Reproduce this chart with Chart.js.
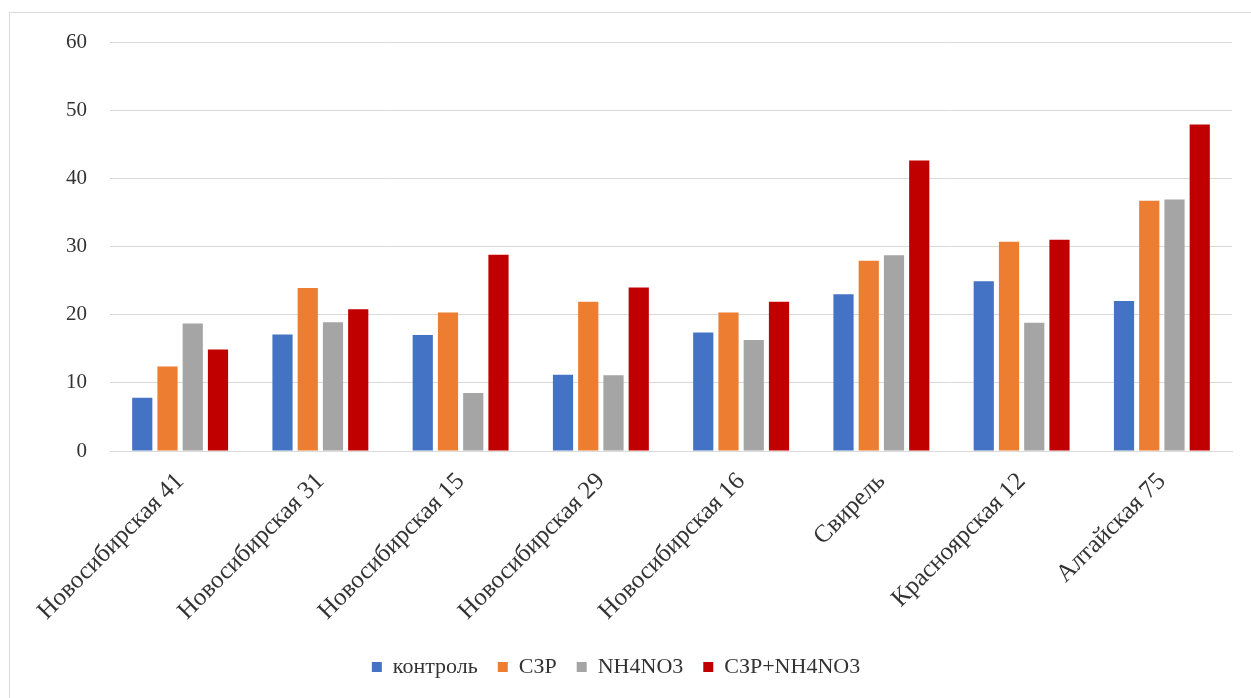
<!DOCTYPE html>
<html lang="ru">
<head>
<meta charset="utf-8">
<title>Сорта пшеницы</title>
<script src="https://cdn.jsdelivr.net/npm/chart.js@4.4.1/dist/chart.umd.min.js"></script>
<style>
  html, body { margin: 0; padding: 0; background: #ffffff; overflow: hidden; }
  #frame {
    position: absolute; left: 9px; top: 12px; width: 1400px; height: 900px;
    border-left: 1px solid #d9d9d9; border-top: 1px solid #d9d9d9;
  }
  #chart { position: absolute; left: 0; top: 0; }
</style>
</head>
<body>
<div id="frame"></div>
<canvas id="chart" width="1251" height="698"></canvas>
<script>
// Varieties along the category axis
const categories = [
  'Новосибирская 41', 'Новосибирская 31', 'Новосибирская 15', 'Новосибирская 29',
  'Новосибирская 16', 'Свирель', 'Красноярская 12', 'Алтайская 75'
];

// Series values per variety
const control   = [7.8, 17.1, 17.0, 11.2, 17.4, 23.0, 24.9, 22.0];
const szr       = [12.4, 23.9, 20.3, 21.9, 20.3, 27.9, 30.7, 36.7];
const nh4no3    = [18.7, 18.9, 8.5, 11.1, 16.3, 28.7, 18.8, 36.9];
const szrNh4no3 = [14.9, 20.8, 28.8, 24.0, 21.9, 42.6, 31.0, 47.9];

// Series names shown in the legend
const seriesNames = ['контроль', 'СЗР', 'NH4NO3', 'СЗР+NH4NO3'];

// Value axis ticks
const yTicks = [0, 10, 20, 30, 40, 50, 60];

const colors = ['#4472c4', '#ed7d31', '#a5a5a5', '#c00000'];
const seriesValues = [control, szr, nh4no3, szrNh4no3];
const textColor = '#333333';
const gridColor = '#d9d9d9';
const fontFamily = '"Liberation Serif", "Times New Roman", serif';

new Chart(document.getElementById('chart'), {
  type: 'bar',
  data: {
    labels: categories,
    datasets: seriesValues.map((vals, i) => ({
      label: seriesNames[i],
      data: vals,
      backgroundColor: colors[i],
      borderWidth: 0,
      categoryPercentage: 0.72,
      barPercentage: 0.8
    }))
  },
  options: {
    responsive: false,
    animation: false,
    layout: { padding: { top: 42, right: 19, bottom: 10, left: 0 } },
    plugins: {
      tooltip: { enabled: false },
      legend: {
        position: 'bottom',
        labels: {
          boxWidth: 10,
          boxHeight: 10,
          padding: 20,
          color: textColor,
          font: { family: fontFamily, size: 22 }
        }
      }
    },
    scales: {
      x: {
        grid: { display: false },
        border: { display: true, color: gridColor, width: 1 },
        ticks: {
          color: textColor,
          font: { family: fontFamily, size: 25 },
          minRotation: 45,
          maxRotation: 45,
          autoSkip: false,
          padding: 8
        },
        afterFit: (scale) => { scale.height = 185; }
      },
      y: {
        min: yTicks[0],
        max: yTicks[yTicks.length - 1],
        grid: { color: gridColor, lineWidth: 1, drawTicks: false },
        border: { display: false },
        afterBuildTicks: (scale) => { scale.ticks = yTicks.map(v => ({ value: v })); },
        ticks: {
          color: textColor,
          font: { family: fontFamily, size: 21 },
          padding: 23
        },
        afterFit: (scale) => { scale.width = 110; }
      }
    }
  }
});
</script>
</body>
</html>
